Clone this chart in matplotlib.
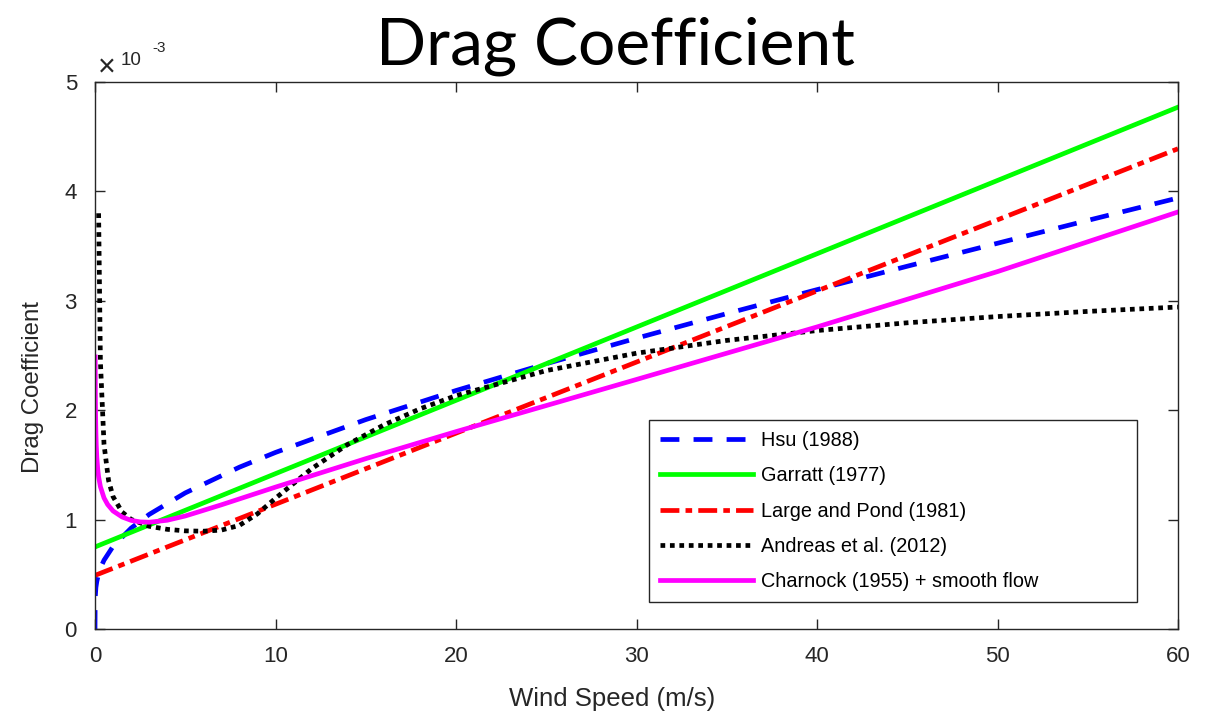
import matplotlib
matplotlib.use("Agg")
import matplotlib.pyplot as plt

# wind speed (m/s) and drag coefficient (units of 1e-3)
u_hsu = [0, 0.01, 0.05, 0.1, 0.2, 0.3, 0.5, 1, 2, 3, 5, 8, 10, 15, 20, 25, 30, 35, 40, 45, 50, 55, 60]
cd_hsu = [0.0, 0.28, 0.38, 0.435, 0.506, 0.556, 0.629, 0.755, 0.922, 1.047, 1.244, 1.479, 1.614,
          1.914, 2.18, 2.425, 2.658, 2.883, 3.102, 3.316, 3.526, 3.735, 3.94]

u_garratt = [0, 60]
cd_garratt = [0.75, 4.77]

u_lp = [0, 60]
cd_lp = [0.49, 4.39]

u_andreas = [0.2, 0.3, 0.5, 0.75, 1, 1.5, 2, 3, 4, 5, 6, 7, 8, 9, 10, 12, 14, 16, 18, 20,
             25, 30, 35, 40, 45, 50, 55, 60]
cd_andreas = [3.8, 2.444, 1.686, 1.359, 1.21, 1.069, 1.002, 0.939, 0.911, 0.897, 0.894, 0.904,
              0.947, 1.053, 1.195, 1.465, 1.687, 1.865, 2.012, 2.133, 2.362, 2.521, 2.638,
              2.728, 2.799, 2.856, 2.903, 2.943]

u_charnock = [0.01, 0.02, 0.03, 0.05, 0.07, 0.1, 0.15, 0.2, 0.3, 0.5, 0.7, 1, 1.5, 2, 2.5, 3,
              4, 5, 7, 10, 15, 20, 30, 40, 50, 60]
cd_charnock = [2.487, 2.145, 1.978, 1.795, 1.679, 1.573, 1.463, 1.391, 1.301, 1.198, 1.138,
               1.079, 1.024, 0.993, 0.979, 0.976, 0.994, 1.033, 1.135, 1.297, 1.557, 1.804,
               2.281, 2.761, 3.267, 3.812]

labels = ["Hsu (1988)", "Garratt (1977)", "Large and Pond (1981)",
          "Andreas et al. (2012)", "Charnock (1955) + smooth flow"]

plt.rcParams["font.family"] = ["Liberation Sans", "DejaVu Sans"]
dark = "#262626"

fig = plt.figure(figsize=(12.12, 7.13), dpi=100)
ax = fig.add_axes([95 / 1212, 1 - 629 / 713, (1178 - 95) / 1212, (629 - 82) / 713])

lw = 3.4
l1, = ax.plot(u_hsu, cd_hsu, color="#0000FF", lw=lw, dashes=(4, 3), label=labels[0])
l2, = ax.plot(u_garratt, cd_garratt, color="#00FF00", lw=lw, label=labels[1])
l3, = ax.plot(u_lp, cd_lp, color="#FF0000", lw=lw, dashes=(4, 1.3, 1.4, 1.3), label=labels[2])
l4, = ax.plot(u_andreas, cd_andreas, color="black", lw=lw, dashes=(1, 1), label=labels[3])
l5, = ax.plot(u_charnock, cd_charnock, color="#FF00FF", lw=lw, label=labels[4])
for l in (l1, l3, l4):
    l.set_dash_capstyle("butt")

ax.set_xlim(0, 60)
ax.set_ylim(0, 5)
ax.set_xticks(range(0, 61, 10))
ax.set_yticks(range(0, 6))
ax.tick_params(direction="in", top=True, right=True, length=7, width=1,
               labelsize=16, colors=dark, pad=12)
ax.tick_params(axis="y", pad=13)
for s in ax.spines.values():
    s.set_color(dark)
    s.set_linewidth(1)

leg = ax.legend(loc="lower left", bbox_to_anchor=(0.5115, 0.049, 0.4505, 0.331), mode="expand",
                fontsize=14.3, handlelength=4.7, labelspacing=0.82, borderpad=0.55,
                handletextpad=0.4, fancybox=False, edgecolor=dark, framealpha=1,
                borderaxespad=0)
leg.get_frame().set_linewidth(1)

fig.text(98 / 1212, 1 - 76 / 713, "\u00d7", fontsize=22, color=dark, va="baseline")
fig.text(121 / 1212, 1 - 65 / 713, "10", fontsize=13.5, color=dark, va="baseline")
fig.text(152 / 1212, 1 - 52 / 713, "-3", fontsize=11, color=dark, va="baseline")

fig.text(615 / 1212, 1 - 65 / 713, "Drag Coefficient", fontsize=47.5, family=["Lato", "DejaVu Sans"],
         ha="center", va="baseline")
fig.text(612 / 1212, 1 - 699 / 713, "Wind Speed (m/s)", fontsize=18.5, color=dark,
         ha="center", va="center")
fig.text(33.5 / 1212, 1 - 387 / 713, "Drag Coefficient", fontsize=17.3, color=dark,
         ha="center", va="center", rotation=90)

fig.savefig("out.png", dpi=100)
